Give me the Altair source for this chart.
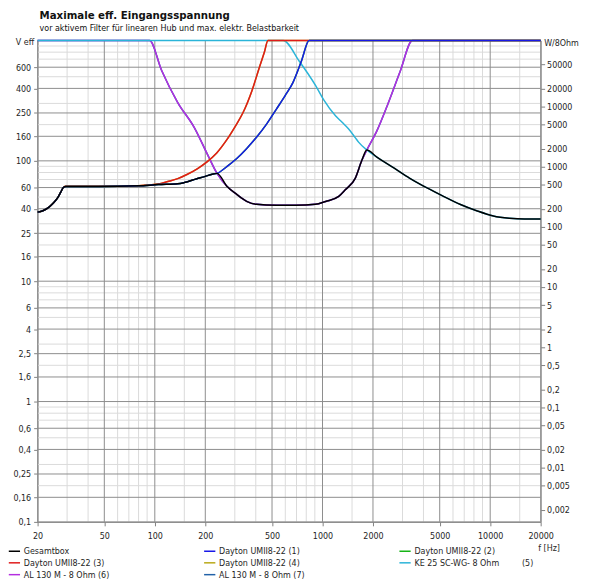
import altair as alt
import pandas as pd

FONT = "DejaVu Sans Condensed"

title_text = "Maximale eff. Eingangsspannung"
subtitle_text = "vor aktivem Filter für linearen Hub und max. elektr. Belastbarkeit"

NAME_TOTAL = "Gesamtbox"
NAME_D1 = "Dayton UMII8-22 (1)"
NAME_D2 = "Dayton UMII8-22 (2)"
NAME_D3 = "Dayton UMII8-22 (3)"
NAME_D4 = "Dayton UMII8-22 (4)"
NAME_KE = "KE 25 SC-WG- 8 Ohm" + "\u00a0" * 9 + "(5)"
NAME_AL6 = "AL 130 M - 8 Ohm (6)"
NAME_AL7 = "AL 130 M - 8 Ohm (7)"

# legend is filled column by column (3 rows)
legend_order = [NAME_TOTAL, NAME_D3, NAME_AL6, NAME_D1, NAME_D4, NAME_AL7, NAME_D2, NAME_KE]
legend_colors = ["#000000", "#e01a1a", "#b42ee0", "#1818e8", "#b8a816", "#2262a8", "#16b416", "#2ab4d8"]

# Gesamtbox
f_total = [20, 21.5, 23.5, 25, 26.5, 27.5, 28.5, 29.5, 46, 80, 105, 137, 150, 178, 198, 220, 235, 270, 308,
           353, 404, 530, 690, 907, 1044, 1250, 1368, 1567, 1717, 1837, 2100, 2692, 3300, 4229, 5300, 6650,
           8300, 10440, 13000, 16000, 20000]
v_total = [37.5, 38.5, 41.5, 45, 50, 55, 60, 61.2, 61.2, 62, 63.5, 64.5, 66, 71, 74, 77.5, 78.7, 61.2, 52.6,
           46.1, 43.5, 42.8, 42.8, 43.5, 46, 50.7, 57.5, 71.6, 101, 123, 108, 86.5, 72, 59.3, 50.5, 43.4,
           38.5, 34.8, 33.3, 32.8, 32.8]

# Dayton UMII8-22 (1) / (2)
f_d1 = [20, 21.5, 23.5, 25, 26.5, 27.5, 28.5, 29.5, 46, 80, 105, 137, 150, 178, 198, 220, 235, 270, 308,
        350, 404, 465, 530, 600, 665, 750, 832, 20000]
v_d1 = [37.5, 38.5, 41.5, 45, 50, 55, 60, 61.2, 61.2, 62, 63.5, 64.5, 66, 71, 74, 77.5, 78.7, 90, 104.5,
        125, 157, 203, 268, 350, 445, 680, 1000, 1000]

# Dayton UMII8-22 (3) / (4)
f_d3 = [20, 21.5, 23.5, 25, 26.5, 27.5, 28.5, 29.5, 46, 80, 104.6, 119.6, 137, 156.5, 179, 204.7, 234,
        267.7, 300, 336, 380, 422, 450, 473, 20000]
v_d3 = [37.5, 38.5, 41.5, 45, 50, 55, 60, 61.4, 61.5, 62.2, 64.1, 67.3, 71.2, 77.4, 85.9, 98.1, 116.4,
        148.6, 191, 252, 385, 608, 798, 1000, 1000]

# KE 25 SC-WG (5)
f_ke = [20, 583, 727, 912, 1015, 1195, 1309, 1432, 1567, 1641, 1837, 2100, 2692, 3300, 4229, 5300, 6650,
        8300, 10440, 13000, 16000, 20000]
v_ke = [1000, 1000, 673, 420, 322, 237, 209, 184, 156, 143, 123, 108, 86.5, 72, 59.3, 50.5, 43.4, 38.5,
        34.8, 33.3, 32.8, 32.8]

# AL 130 M (6) / (7)
f_al = [20, 93, 110, 137, 171.7, 205, 235, 270, 308, 353, 404, 530, 690, 907, 1044, 1250, 1368, 1567, 1717,
        1837, 2100, 2461, 2900, 3440, 20000]
v_al = [1000, 1000, 560, 305, 190, 115, 78.7, 61.2, 52.6, 46.1, 43.5, 42.8, 42.8, 43.5, 46, 50.7, 57.5,
        71.6, 101, 123, 175, 300, 550, 1000, 1000]

x_major = [20, 50, 100, 200, 500, 1000, 2000, 5000, 10000, 20000]
x_minor = [30, 40, 60, 70, 80, 90, 150, 300, 400, 600, 700, 800, 900, 1500,
           3000, 4000, 6000, 7000, 8000, 9000, 15000]
y_major = [0.1, 0.16, 0.25, 0.4, 0.6, 1, 1.6, 2.5, 4, 6, 10, 16, 25, 40, 60, 100, 160, 250, 400, 600]
y_minor = [0.2, 0.3, 0.5, 0.7, 0.8, 0.9, 2, 3, 5, 7, 8, 9, 20, 30, 50, 70, 80, 90, 200, 300, 500, 700, 800, 900]
p_ticks = [0.002, 0.005, 0.01, 0.02, 0.05, 0.1, 0.2, 0.5, 1, 2, 5, 10, 20, 50, 100, 200, 500, 1000,
           2000, 5000, 10000, 20000, 50000]

# drawing order: first drawn at the bottom, Gesamtbox on top
draw_order = [
    (NAME_AL7, f_al, v_al),
    (NAME_AL6, f_al, v_al),
    (NAME_KE, f_ke, v_ke),
    (NAME_D4, f_d3, v_d3),
    (NAME_D3, f_d3, v_d3),
    (NAME_D2, f_d1, v_d1),
    (NAME_D1, f_d1, v_d1),
    (NAME_TOTAL, f_total, v_total),
]

AX = "#808080"
LBL = "#1e1e1e"

xscale = alt.Scale(type="log", domain=[20, 20000], nice=False)
yscale = alt.Scale(type="log", domain=[0.1, 1000], nice=False)
cscale = alt.Scale(domain=legend_order, range=legend_colors)

xaxis = alt.Axis(values=x_major, format="d", grid=False, tickSize=4, tickColor=AX, domainColor=AX,
                 labelFont=FONT, labelFontSize=9, labelColor=LBL, labelPadding=6, labelFlush=False,
                 labelOverlap=False, title="f [Hz]", titleFont=FONT, titleFontSize=9,
                 titleFontWeight="normal", titleColor=LBL, titleX=518, titleY=26,
                 titleAlign="center", titleBaseline="middle")
yaxis = alt.Axis(values=y_major, labelExpr="replace(toString(datum.value), '.', ',')", grid=False,
                 tickSize=4, tickColor=AX, domainColor=AX, labelFont=FONT, labelFontSize=9,
                 labelColor=LBL, labelPadding=3, labelFlush=False, labelOverlap=False,
                 title="V eff", titleAngle=0, titleAlign="right", titleBaseline="middle",
                 titleX=-4, titleY=1, titleFont=FONT, titleFontSize=9, titleFontWeight="normal",
                 titleColor=LBL)
paxis = alt.Axis(values=p_ticks, labelExpr="replace(toString(datum.value), '.', ',')", grid=False,
                 orient="right", tickSize=4, tickColor=AX, domainColor=AX, labelFont=FONT,
                 labelFontSize=9, labelColor=LBL, labelPadding=2, labelFlush=False, labelOverlap=False,
                 title="W/8Ohm", titleAngle=0, titleAlign="left", titleBaseline="middle",
                 titleX=3, titleY=2, titleFont=FONT, titleFontSize=9, titleFontWeight="normal",
                 titleColor=LBL)
legend = alt.Legend(orient="none", legendX=-30, legendY=511, columns=3, columnPadding=58, rowPadding=0,
                    gridAlign="all", symbolType="stroke", symbolSize=130, symbolStrokeWidth=1.5,
                    labelFont=FONT, labelFontSize=9, labelColor=LBL, labelOffset=3, padding=0,
                    title=None, labelLimit=300)

v_minor = alt.Chart(pd.DataFrame({"f": x_minor})).mark_rule(color="#dadada", strokeWidth=1).encode(
    x=alt.X("f:Q", scale=xscale, axis=xaxis))
h_minor = alt.Chart(pd.DataFrame({"V": y_minor})).mark_rule(color="#dadada", strokeWidth=1).encode(
    y=alt.Y("V:Q", scale=yscale, axis=yaxis))
v_major = alt.Chart(pd.DataFrame({"f": x_major})).mark_rule(color="#8c8c8c", strokeWidth=1).encode(
    x=alt.X("f:Q", scale=xscale, axis=xaxis))
h_major = alt.Chart(pd.DataFrame({"V": y_major})).mark_rule(color="#8c8c8c", strokeWidth=1).encode(
    y=alt.Y("V:Q", scale=yscale, axis=yaxis))

curve_layers = []
for name, fs, vs in draw_order:
    d = pd.DataFrame({"series": name, "f": fs, "V": vs})
    curve_layers.append(
        alt.Chart(d).mark_line(strokeWidth=1.5, interpolate="monotone").encode(
            x=alt.X("f:Q", scale=xscale, axis=xaxis),
            y=alt.Y("V:Q", scale=yscale, axis=yaxis),
            color=alt.Color("series:N", scale=cscale, legend=legend),
        )
    )

inner = alt.layer(v_minor, h_minor, v_major, h_major, *curve_layers)

df_total = pd.DataFrame({"f": f_total, "V": v_total})
power = alt.Chart(df_total).transform_calculate(P="datum.V * datum.V / 8").mark_line(
    opacity=0, color="#000000").encode(
    x=alt.X("f:Q", scale=xscale, axis=xaxis),
    y=alt.Y("P:Q", scale=alt.Scale(type="log", domain=[0.00125, 125000], nice=False), axis=paxis),
)

chart = alt.layer(inner, power).resolve_scale(y="independent").properties(
    width=510, height=488,
    autosize=alt.AutoSizeParams(type="none"),
    padding={"left": 30, "top": 29, "right": 50, "bottom": 58},
    title=alt.TitleParams(text=title_text, subtitle=subtitle_text, anchor="start", frame="group",
                          font=FONT, fontSize=11.5, fontWeight="bold", color="#111111",
                          subtitleFont=FONT, subtitleFontSize=9, subtitleColor="#111111",
                          subtitlePadding=2, offset=5, dx=2),
).configure_view(stroke=None)

chart.save("out.html", embed_options={"renderer": "svg", "actions": False})
